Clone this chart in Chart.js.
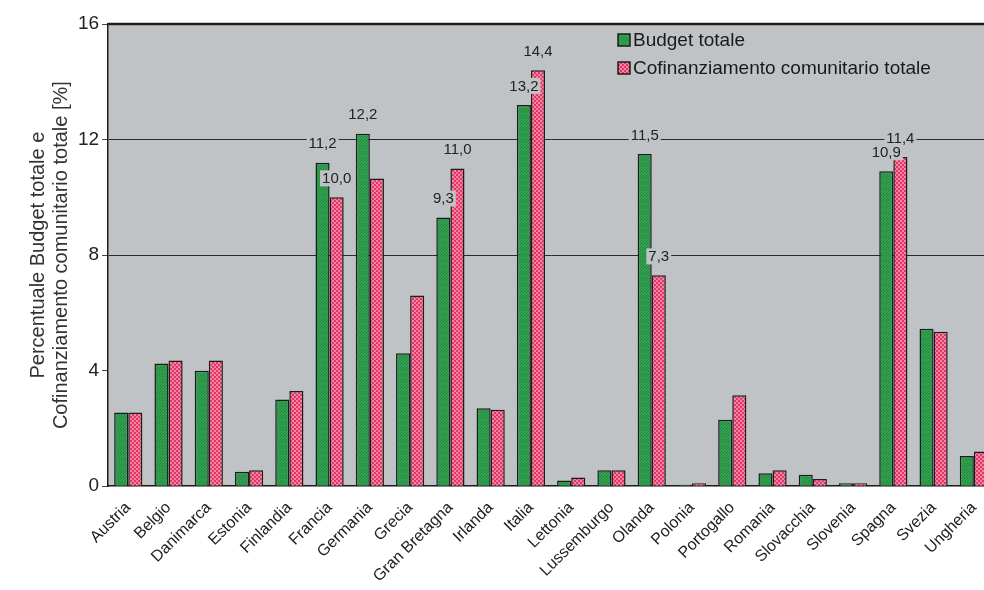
<!DOCTYPE html>
<html>
<head>
<meta charset="utf-8">
<script src="https://cdn.jsdelivr.net/npm/chart.js@4.4.0/dist/chart.umd.min.js"></script>
<style>
    html, body { margin: 0; padding: 0; background: #ffffff; overflow: hidden; }
    #wrap { width: 1000px; height: 590px; position: relative; }
</style>
</head>
<body>
<div id="wrap"><canvas id="chart"></canvas></div>
<script>
// Chart data
const countries = ['Austria', 'Belgio', 'Danimarca', 'Estonia', 'Finlandia', 'Francia', 'Germania',
    'Grecia', 'Gran Bretagna', 'Irlanda', 'Italia', 'Lettonia', 'Lussemburgo', 'Olanda', 'Polonia',
    'Portogallo', 'Romania', 'Slovacchia', 'Slovenia', 'Spagna', 'Svezia', 'Ungheria'];
const budgetTotale = [2.55, 4.25, 4.0, 0.5, 3.0, 11.2, 12.2, 4.6, 9.3, 2.7, 13.2, 0.2, 0.55, 11.5, 0.05,
    2.3, 0.45, 0.4, 0.1, 10.9, 5.45, 1.05];
const cofinanziamento = [2.55, 4.35, 4.35, 0.55, 3.3, 10.0, 10.65, 6.6, 11.0, 2.65, 14.4, 0.3, 0.55, 7.3, 0.1,
    3.15, 0.55, 0.25, 0.1, 11.4, 5.35, 1.2];
const budgetLabels = [null, null, null, null, null, '11,2', '12,2', null, '9,3', null, '13,2', null, null,
    '11,5', null, null, null, null, null, '10,9', null, null];
const cofinLabels = [null, null, null, null, null, '10,0', null, null, '11,0', null, '14,4', null, null,
    '7,3', null, null, null, null, null, '11,4', null, null];
const yTicks = [0, 4, 8, 12, 16];
const seriesNames = ['Budget totale', 'Cofinanziamento comunitario totale'];

const plotBg = '#bfc3c5';
const ink = '#1c1c1c';
const fontFamily = '"Liberation Sans", Arial, sans-serif';

function makeHatch() {
    const c = document.createElement('canvas');
    c.width = 6; c.height = 6;
    const g = c.getContext('2d');
    g.fillStyle = '#45b062';
    g.fillRect(0, 0, 6, 6);
    g.strokeStyle = '#1f8a3d';
    g.lineWidth = 1.3;
    g.beginPath();
    for (let k = -6; k <= 12; k += 3) {
        g.moveTo(k, 6);
        g.lineTo(k + 6, 0);
    }
    g.stroke();
    return g.createPattern(c, 'repeat');
}

function makeDots() {
    const c = document.createElement('canvas');
    c.width = 4; c.height = 4;
    const g = c.getContext('2d');
    g.fillStyle = '#e0366a';
    g.fillRect(0, 0, 4, 4);
    g.fillStyle = '#f5849f';
    g.fillRect(0, 0, 2, 2);
    g.fillRect(2, 2, 2, 2);
    return g.createPattern(c, 'repeat');
}

const greenFill = makeHatch();
const redFill = makeDots();

// plot background and top frame line
const plotFrame = {
    id: 'plotFrame',
    beforeDraw(chart) {
        const a = chart.chartArea;
        const ctx = chart.ctx;
        ctx.save();
        ctx.fillStyle = plotBg;
        ctx.fillRect(a.left, a.top, a.right - a.left, a.bottom - a.top);
        ctx.restore();
    },
    afterDraw(chart) {
        const a = chart.chartArea;
        const ctx = chart.ctx;
        ctx.save();
        ctx.strokeStyle = ink;
        ctx.lineWidth = 2.5;
        ctx.beginPath();
        ctx.moveTo(a.left, a.top);
        ctx.lineTo(a.right, a.top);
        ctx.stroke();
        ctx.restore();
    }
};

// value labels above selected bars
const valueLabels = {
    id: 'valueLabels',
    afterDatasetsDraw(chart) {
        const ctx = chart.ctx;
        const lists = [budgetLabels, cofinLabels];
        ctx.save();
        ctx.font = '15px ' + fontFamily;
        ctx.textAlign = 'center';
        ctx.textBaseline = 'bottom';
        lists.forEach((list, di) => {
            const meta = chart.getDatasetMeta(di);
            list.forEach((txt, i) => {
                if (!txt) return;
                const bar = meta.data[i];
                const w = ctx.measureText(txt).width;
                const y = bar.y - 11;
                ctx.fillStyle = plotBg;
                ctx.fillRect(bar.x - w / 2 - 2, y - 16, w + 4, 16);
                ctx.fillStyle = '#222222';
                ctx.fillText(txt, bar.x, y);
            });
        });
        ctx.restore();
    }
};

// legend drawn inside the plot, top right
const innerLegend = {
    id: 'innerLegend',
    afterDraw(chart) {
        const ctx = chart.ctx;
        const fills = [greenFill, redFill];
        const x0 = 618;
        const y0 = 40;
        ctx.save();
        ctx.font = '19px ' + fontFamily;
        ctx.textBaseline = 'middle';
        seriesNames.forEach((name, i) => {
            const y = y0 + i * 28;
            ctx.fillStyle = fills[i];
            ctx.fillRect(x0, y - 6, 12, 12);
            ctx.strokeStyle = ink;
            ctx.lineWidth = 1.5;
            ctx.strokeRect(x0, y - 6, 12, 12);
            ctx.fillStyle = '#1a1a1a';
            ctx.fillText(name, x0 + 15, y + 1);
        });
        ctx.restore();
    }
};

const ctx = document.getElementById('chart').getContext('2d');
const chart = new Chart(ctx, {
    type: 'bar',
    data: {
        labels: countries,
        datasets: [
            {
                label: seriesNames[0],
                data: budgetTotale,
                backgroundColor: greenFill,
                borderColor: ink,
                borderWidth: 1.5,
                categoryPercentage: 0.7,
                barPercentage: 1.0
            },
            {
                label: seriesNames[1],
                data: cofinanziamento,
                backgroundColor: redFill,
                borderColor: ink,
                borderWidth: 1.5,
                categoryPercentage: 0.7,
                barPercentage: 1.0
            }
        ]
    },
    options: {
        responsive: true,
        maintainAspectRatio: false,
        animation: false,
        layout: {
            padding: { left: 27, right: 6, top: 24, bottom: 0 }
        },
        plugins: {
            legend: { display: false },
            tooltip: { enabled: false }
        },
        scales: {
            x: {
                grid: { display: false },
                border: { display: true, color: ink, width: 1.5 },
                ticks: {
                    color: '#222222',
                    maxRotation: 45,
                    minRotation: 45,
                    autoSkip: false,
                    padding: 4,
                    font: { family: fontFamily, size: 16 }
                }
            },
            y: {
                min: 0,
                max: 16,
                afterBuildTicks(axis) {
                    axis.ticks = yTicks.map(v => ({ value: v }));
                },
                grid: {
                    color: c => (c.tick && (c.tick.value === 8 || c.tick.value === 12)) ? '#2a2a2a' : 'rgba(0,0,0,0)',
                    tickColor: '#444444',
                    tickLength: 6,
                    lineWidth: 1
                },
                border: { display: true, color: ink, width: 1.5 },
                ticks: {
                    color: '#222222',
                    padding: 3,
                    font: { family: fontFamily, size: 19 }
                },
                title: {
                    display: true,
                    text: ['Percentuale Budget totale e', 'Cofinanziamento comunitario totale [%]'],
                    color: '#333333',
                    padding: { top: 0, bottom: 2 },
                    font: { family: fontFamily, size: 20, lineHeight: 1.15 }
                }
            }
        }
    },
    plugins: [plotFrame, valueLabels, innerLegend]
});
</script>
</body>
</html>
